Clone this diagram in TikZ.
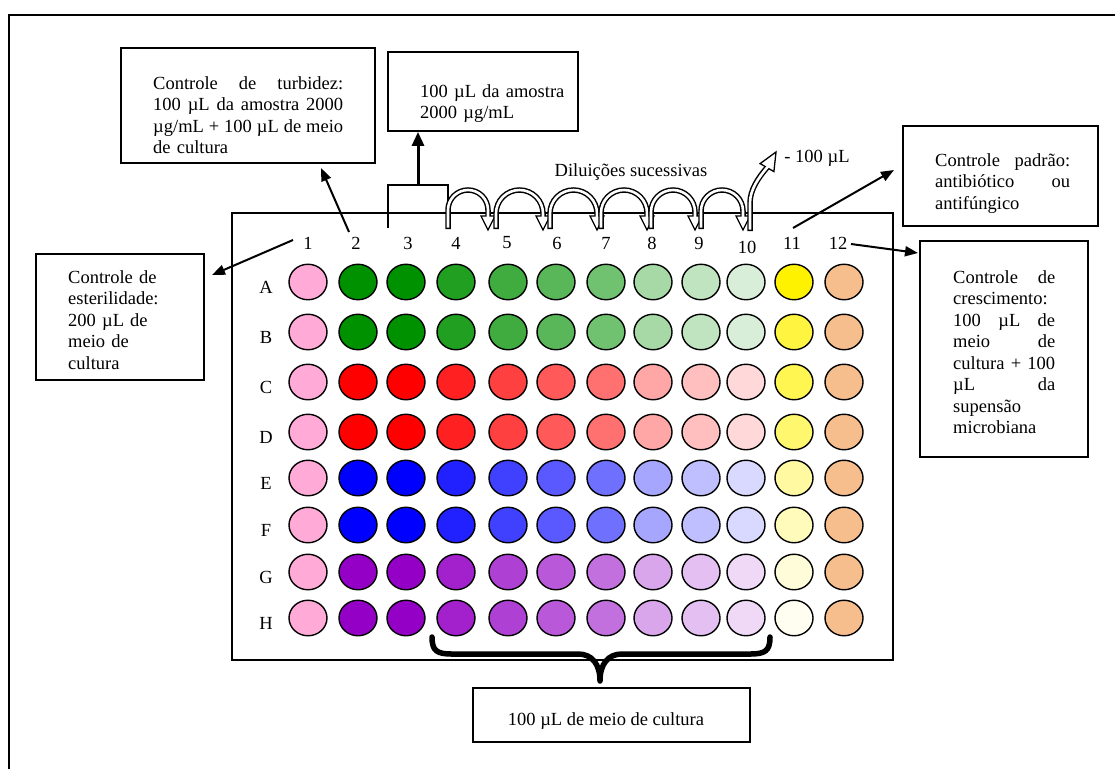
\documentclass[tikz,border=0pt]{standalone}
\usepackage{fontspec}
\setmainfont{Liberation Serif}
\usetikzlibrary{arrows.meta,shapes.geometric}
\definecolor{pk}{RGB}{255,170,215}
\definecolor{pe}{RGB}{246,190,140}
\definecolor{gr}{RGB}{0,145,0}
\definecolor{rd}{RGB}{255,0,0}
\definecolor{bl}{RGB}{0,0,255}
\definecolor{pu}{RGB}{148,0,198}
\begin{document}
\begin{tikzpicture}[x=1pt,y=-1pt,
  every node/.style={font=\fontsize{18.5}{21.5}\selectfont},
  box/.style={draw, line width=1.8pt, inner sep=0pt},
  txt/.style={anchor=north west, inner sep=0pt, align=left},
  lab/.style={inner sep=0pt},
  well/.style={ellipse, draw, line width=1.4pt, minimum width=38pt, minimum height=35.5pt, inner sep=0pt},
  ptr/.style={line width=2pt, -{Triangle[length=13pt,width=10pt]}},
  band/.style={line width=5.5pt},
  bandin/.style={line width=2.6pt, white},
  head/.style={fill=white, draw=black, line width=1.3pt, line join=miter}]
\useasboundingbox (0,0) rectangle (1115,769);
% outer frame
\draw[line width=2pt] (9,769) -- (9,15) -- (1115,15);
% plate
\node[draw, line width=1.5pt, minimum width=661pt, minimum height=447pt, inner sep=0pt] (plate) at (562.5,436.5) {};
% column labels
\foreach \c/\x in {1/308,2/356,3/408,4/456,5/507,6/557,7/606,8/652,9/699,11/792,12/838}
  \node[lab] (col\c) at (\x,243) {\c};
\node[lab] (col10) at (747,247) {10};
% wells
\foreach \r/\y/\base/\yt in {A/282/gr/100,B/332/gr/75,C/382/rd/68,D/432/rd/57,E/478/bl/37,F/525/bl/27,G/572/pu/15,H/618/pu/6} {
  \node[lab] (row\r) at (266,\y+5) {\r};
  \foreach \c/\x/\t in {1/308/0,2/358/100,3/406/100,4/456/87,5/508/75,6/556/65,7/606/56,8/653/35,9/701/25,10/746/15,11/794/0,12/844/0} {
    \ifnum\c=1 \def\fc{pk}\else\ifnum\c=11 \edef\fc{yellow!\yt!white}\else\ifnum\c=12 \def\fc{pe}\else\edef\fc{\base!\t!white}\fi\fi\fi
    \node[well, fill=\fc] (w\r\c) at (\x,\y) {};
  }
}
% text boxes
\node[box, minimum width=254pt, minimum height=115pt] (b1) at (248,105.5) {};
\node[txt, text width=190pt] (t1) at (153,76) {Controle\hfill de\hfill turbidez:\\100\hfill µL\hfill da\hfill amostra\hfill 2000\\µg/mL\hfill +\hfill 100\hfill µL\hfill de\hfill meio\\de cultura};
\node[box, minimum width=190pt, minimum height=79pt] (b2) at (483,91.5) {};
\node[txt, text width=150pt] (t2) at (420,84) {100 µL da amostra\\2000 µg/mL};
\node[box, minimum width=168pt, minimum height=126pt] (b3) at (120,317) {};
\node[txt, text width=125pt] (t3) at (68,270) {Controle de\\esterilidade:\\200 µL de\\meio de\\cultura};
\node[box, minimum width=195pt, minimum height=100pt] (b4) at (1000.5,176) {};
\node[txt, text width=135pt] (t4) at (935,153) {Controle\hfill padrão:\\antibiótico\hfill ou\\antifúngico};
\node[box, minimum width=168pt, minimum height=216pt] (b5) at (1004,349) {};
\node[txt, text width=102pt] (t5) at (953,270) {Controle\hfill de\\crescimento:\\100\hfill µL\hfill de\\meio\hfill de\\cultura\hfill +\hfill 100\\µL\hfill da\\supensão\\microbiana};
\node[box, minimum width=277pt, minimum height=54pt] (b6) at (611.5,715) {};
\node[lab] (t6) at (606,721) {100 µL de meio de cultura};
\node[lab] (dil) at (631,172) {Diluições sucessivas};
\node[lab] (rem) at (817,158) {- 100 µL};
% pointer arrows
\coordinate (p1a) at (349,232); \coordinate (p1b) at (321,168);
\coordinate (p3a) at (293,240); \coordinate (p3b) at (212,275);
\coordinate (p4a) at (793,228); \coordinate (p4b) at (894,170);
\coordinate (p5a) at (851,244); \coordinate (p5b) at (918,253);
\draw[ptr] (p1a) -- (p1b);
\draw[ptr] (p3a) -- (p3b);
\draw[ptr] (p4a) -- (p4b);
\draw[ptr] (p5a) -- (p5b);
% bracket and up arrow
\coordinate (brk) at (418,185);
\draw[line width=1.5pt] (388,228) -- (388,185) -- (448,185) -- (448,228);
\draw[line width=3pt, -{Triangle[length=14pt,width=12pt]}] (brk) -- (b2.south -| brk);
% hollow dilution arrows
\foreach \s/\e in {448/488,496/543,550/597,601/647,651/695,701/743} {
  \pgfmathsetmacro\R{(\e-\s)/2}
  \pgfmathsetmacro\m{(\e+\s)/2}
  \pgfmathsetmacro\cy{190+\R}
  \pgfmathsetmacro\k{0.5523*\R}
  \def\arcpath{(\s,229) -- (\s,\cy) .. controls (\s,\cy-\k) and (\m-\k,190) .. (\m,190) .. controls (\m+\k,190) and (\e,\cy-\k) .. (\e,\cy) -- (\e,216)}
  \draw[band] \arcpath;
  \draw[head] (\e-7,216) -- (\e,230) -- (\e+7,216) -- cycle;
  \draw[bandin, shorten <=1.5pt, shorten >=-2pt] \arcpath;
}
\draw[band] (750,231) -- (750,203) .. controls (750,190) and (758,178) .. (767,167.6);
\draw[head] (773.9,171.6) -- (776,152) -- (760.1,163.6) -- cycle;
\draw[bandin, shorten <=1.5pt, shorten >=-2pt] (750,231) -- (750,203) .. controls (750,190) and (758,178) .. (767,167.6);
% brace
\draw[line width=5.5pt, line cap=round, line join=round] (432,637) .. controls (432,651) and (437,654) .. (452,654) -- (578,654) .. controls (592,654) and (600,664) .. (600,681) .. controls (600,664) and (608,654) .. (622,654) -- (750,654) .. controls (765,654) and (770,651) .. (770,637);
\end{tikzpicture}
\end{document}
